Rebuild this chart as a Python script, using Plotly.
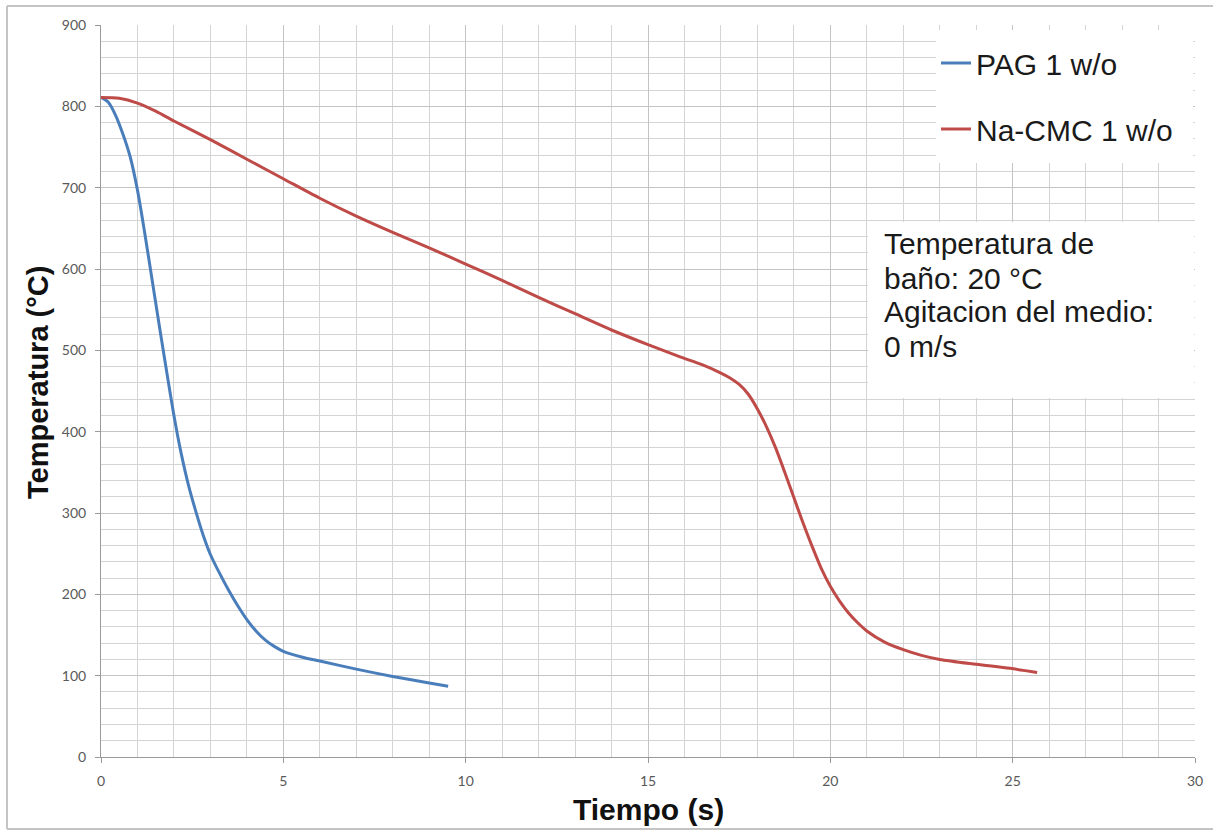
import plotly.graph_objects as go

# --- data ---
pag_t = [0, 0.2, 0.4, 0.6, 0.8, 1.0, 1.2, 1.4, 1.6, 1.8, 2.0, 2.2, 2.4, 2.6, 2.8,
         3.0, 3.25, 3.5, 3.75, 4.0, 4.25, 4.5, 4.75, 5.0, 5.5, 6.0, 7.0, 8.0, 9.0, 9.52]
pag_T = [811, 805, 789, 766, 738, 697, 644, 587, 530, 474, 420, 373, 334, 302, 273,
         249, 226, 205, 186, 169, 155, 144, 136, 130, 123, 118, 108, 99, 91, 87]

cmc_t = [0, 0.5, 1.0, 1.5, 2.0, 3.0, 4.0, 5.0, 6.0, 7.0, 8.0, 9.0, 10.0, 11.0, 12.0,
         13.0, 14.0, 15.0, 15.88, 16.5, 17.0, 17.25, 17.5, 17.75, 18.0, 18.25, 18.5,
         18.75, 19.0, 19.25, 19.5, 19.75, 20.0, 20.25, 20.5, 20.75, 21.0, 21.5, 22.0,
         22.5, 23.0, 24.0, 24.93, 25.67]
cmc_T = [811, 810, 804, 794, 782, 759, 735, 711, 687, 665, 645, 626, 606, 586, 565,
         545, 525, 507, 492, 482, 472, 466, 458, 446, 428, 406, 380,
         350, 319, 288, 259, 232, 210, 192, 177, 165, 155, 141, 132,
         125, 120, 114, 109, 104]

series_names = ["PAG 1 w/o", "Na-CMC 1 w/o"]
x_title = "Tiempo (s)"
y_title = "Temperatura (°C)"
note_lines = ["Temperatura de", "baño: 20 °C", "Agitacion del medio:", "0 m/s"]

BLUE = "#4A7EBB"
RED = "#BE4B48"
GRID = "#d4d4d4"
GRID_MAJ = "#c4c4c4"
TICKFONT = dict(family="Lato, Open Sans, sans-serif", size=14, color="#595959")
TXT = "Liberation Sans, Arial, sans-serif"

fig = go.Figure()
fig.add_trace(go.Scatter(x=pag_t, y=pag_T, mode="lines", name=series_names[0],
                         legendgroup="a",
                         line=dict(color=BLUE, width=3, shape="spline", smoothing=0.8)))
fig.add_trace(go.Scatter(x=cmc_t, y=cmc_T, mode="lines", name=series_names[1],
                         legendgroup="b",
                         line=dict(color=RED, width=3, shape="spline", smoothing=0.8)))

W, H = 1213, 833
L, R, T, B = 101, 18, 25, 76
pw, ph = W - L - R, H - T - B


def px2x(px):
    return (px - L) / pw


def px2y(py):
    return (H - B - py) / ph


fig.update_layout(
    width=W, height=H,
    margin=dict(l=L, r=R, t=T, b=B, autoexpand=False),
    paper_bgcolor="white", plot_bgcolor="white",
    showlegend=True,
    legend=dict(x=px2x(936), y=px2y(37), xanchor="left", yanchor="top",
                bgcolor="rgba(0,0,0,0)", borderwidth=0,
                font=dict(family=TXT, size=30, color="#1a1a1a"),
                tracegroupgap=24, traceorder="grouped"),
    xaxis=dict(range=[0, 30], dtick=5, tick0=0, showgrid=True, gridcolor=GRID_MAJ, gridwidth=1,
               minor=dict(dtick=1, showgrid=True, gridcolor=GRID, gridwidth=1),
               showline=True, linecolor="#9a9a9a", linewidth=1,
               ticks="outside", ticklen=5, tickcolor="#9a9a9a",
               tickfont=TICKFONT, ticklabelstandoff=6, zeroline=False, fixedrange=True),
    yaxis=dict(range=[0, 900], dtick=100, tick0=0, showgrid=True, gridcolor=GRID_MAJ, gridwidth=1,
               minor=dict(dtick=20, showgrid=True, gridcolor=GRID, gridwidth=1),
               showline=True, linecolor="#9a9a9a", linewidth=1,
               ticks="outside", ticklen=5, tickcolor="#9a9a9a",
               tickfont=TICKFONT, ticklabelstandoff=6, zeroline=False, fixedrange=True),
)

# legend backdrop
fig.add_shape(type="rect", xref="paper", yref="paper",
              x0=px2x(936), x1=px2x(1193), y0=px2y(163), y1=px2y(30),
              fillcolor="white", line=dict(width=0), layer="above")

# note box
fig.add_shape(type="rect", xref="paper", yref="paper",
              x0=px2x(868), x1=px2x(1194), y0=px2y(398), y1=px2y(222),
              fillcolor="white", line=dict(width=0), layer="above")
for line_txt, cy in zip(note_lines, [243.5, 278, 311.5, 346.5]):
    fig.add_annotation(xref="paper", yref="paper", x=px2x(882), y=px2y(cy),
                       xanchor="left", yanchor="middle", align="left", showarrow=False,
                       text=line_txt, font=dict(family=TXT, size=30, color="#1a1a1a"))

# axis titles
fig.add_annotation(xref="paper", yref="paper", x=0.5, y=px2y(810),
                   xanchor="center", yanchor="middle", showarrow=False, text="<b>" + x_title + "</b>",
                   font=dict(family=TXT, size=30, color="#111111"))
fig.add_annotation(xref="paper", yref="paper", x=px2x(38), y=px2y(383),
                   xanchor="center", yanchor="middle", showarrow=False, textangle=-90,
                   text="<b>" + y_title + "</b>",
                   font=dict(family=TXT, size=29, color="#111111"))

# outer frame (top, left, bottom)
frame = dict(color="#c4c4c4", width=2)
fig.add_shape(type="line", xref="paper", yref="paper", x0=px2x(7), x1=px2x(W), y0=px2y(6), y1=px2y(6), line=frame)
fig.add_shape(type="line", xref="paper", yref="paper", x0=px2x(7), x1=px2x(7), y0=px2y(6), y1=px2y(829), line=frame)
fig.add_shape(type="line", xref="paper", yref="paper", x0=px2x(7), x1=px2x(W), y0=px2y(829), y1=px2y(829), line=frame)

fig.write_html("out.html", config={"displayModeBar": False},
               post_script="document.body.style.margin='0';document.body.style.overflow='hidden';")
